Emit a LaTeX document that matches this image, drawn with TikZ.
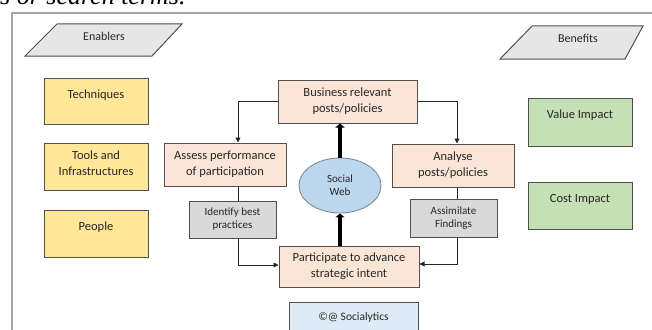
\documentclass[tikz,border=0pt]{standalone}
\usepackage{fontspec}
\setmainfont{Carlito}
\newfontfamily\capfont{Liberation Serif}
\usepackage{tikz}
\usetikzlibrary{positioning,arrows.meta,shapes.geometric}
\definecolor{edge}{HTML}{505050}
\definecolor{ink}{HTML}{262626}
\definecolor{peachfill}{HTML}{FBE5D6}
\definecolor{yelfill}{HTML}{FFE699}
\definecolor{grnfill}{HTML}{C5E0B4}
\definecolor{paragray}{HTML}{E7E6E6}
\definecolor{subgray}{HTML}{D9D9D9}
\definecolor{webblue}{HTML}{BDD7EE}
\definecolor{webedge}{HTML}{7F8C99}
\definecolor{notefill}{HTML}{DEEBF7}
\definecolor{framegray}{HTML}{A6A6A6}

\begin{document}
\begin{tikzpicture}[
  x=1pt, y=-1pt,
  node distance=18pt,
  box/.style={draw=edge, line width=1pt, align=center, text=ink, font=\fontsize{12.5}{16}\selectfont},
  procbox/.style={box, fill=peachfill, minimum width=122, minimum height=43},
  subbox/.style={box, fill=subgray, minimum width=87, minimum height=37, font=\fontsize{11}{13}\selectfont},
  enabbox/.style={box, fill=yelfill, minimum width=104, minimum height=46},
  benebox/.style={box, fill=grnfill, minimum width=104, minimum height=48},
  toplbl/.style={anchor=north, yshift=-9pt, align=center, text=ink, font=\fontsize{12.5}{16}\selectfont},
  para/.style={draw=edge, line width=1pt, fill=paragray},
  paratext/.style={text=ink, font=\fontsize{12}{14}\selectfont},
  arrow/.style={-{Triangle[length=5pt,width=5pt]}, line width=0.8pt, draw=ink},
  link/.style={line width=0.8pt, draw=ink},
  bigarrow/.style={-{Triangle[length=4pt,width=9pt]}, line width=4.5pt, draw=black}
]
\useasboundingbox (0,0) rectangle (652,329);

% page frame and cut caption
\draw[framegray, line width=1.3pt] (12,340) -- (12,13) -- (665,13);
\node[anchor=base west, inner sep=0pt, font=\capfont\itshape\fontsize{26}{30}\selectfont] (caption) at (0,5) {s or search terms.};

% headers
\draw[para] (25,56) -- (57,24) -- (182,24) -- (152,56) -- cycle;
\node[paratext] (enablers) at (104,36) {Enablers};
\draw[para] (500,59) -- (532,26) -- (643,26) -- (625,59) -- cycle;
\node[paratext] (benefits) at (578,38) {Benefits};

% enablers
\node[enabbox, label={[toplbl]north:Techniques}] (tech) at (96,101) {};
\node[enabbox, minimum height=47, below=18pt of tech, label={[toplbl, yshift=4pt]north:Tools and\\Infrastructures}] (tools) {};
\node[enabbox, minimum height=47, below=19pt of tools, label={[toplbl]north:People}] (people) {};

% benefits
\node[benebox, label={[toplbl]north:Value Impact}] (value) at (580,122) {};
\node[benebox, minimum height=47, below=35pt of value, label={[toplbl]north:Cost Impact}] (cost) {};

% cycle
\node[procbox, minimum width=139] (biz) at (347.5,101.5) {Business relevant\\posts/policies};
\node[procbox] (assess) at (225,164.5) {Assess performance\\of participation};
\node[procbox] (analyse) at (453,165.5) {Analyse\\posts/policies};
\node[procbox, minimum width=140, minimum height=41] (part) at (349,266.5) {Participate to advance\\strategic intent};
\node[subbox] (ident) at (232.5,219.5) {Identify best\\practices};
\node[subbox, minimum height=38] (assim) at (453.5,218) {Assimilate\\Findings};
\node[ellipse, draw=webedge, line width=0.9pt, fill=webblue, minimum width=82, minimum height=55, text=ink, align=center, font=\fontsize{11}{13}\selectfont] (web) at (340,185.5) {Social\\Web};
\node[box, fill=notefill, minimum width=129, minimum height=30, font=\fontsize{11.5}{14}\selectfont] (note) at (353.5,317) {\textcopyright @ Socialytics};

\coordinate (lc) at (238,0);
\coordinate (rc) at (457,0);

\draw[arrow] (biz.west) -| (assess.north -| lc);
\draw[arrow] (biz.east) -| (analyse.north -| rc);
\draw[link] (assess.south -| lc) -- (ident.north -| lc);
\draw[link] (analyse.south -| rc) -- (assim.north -| rc);
\draw[arrow] (ident.south -| lc) |- ([yshift=1.5pt]part.west);
\draw[arrow] (assim.south -| rc) |- ([yshift=2.5pt]part.east);
\draw[bigarrow] (web.north) -- (web.north |- biz.south);
\draw[bigarrow] (web.south |- part.north) -- (web.south);
\end{tikzpicture}
\end{document}
